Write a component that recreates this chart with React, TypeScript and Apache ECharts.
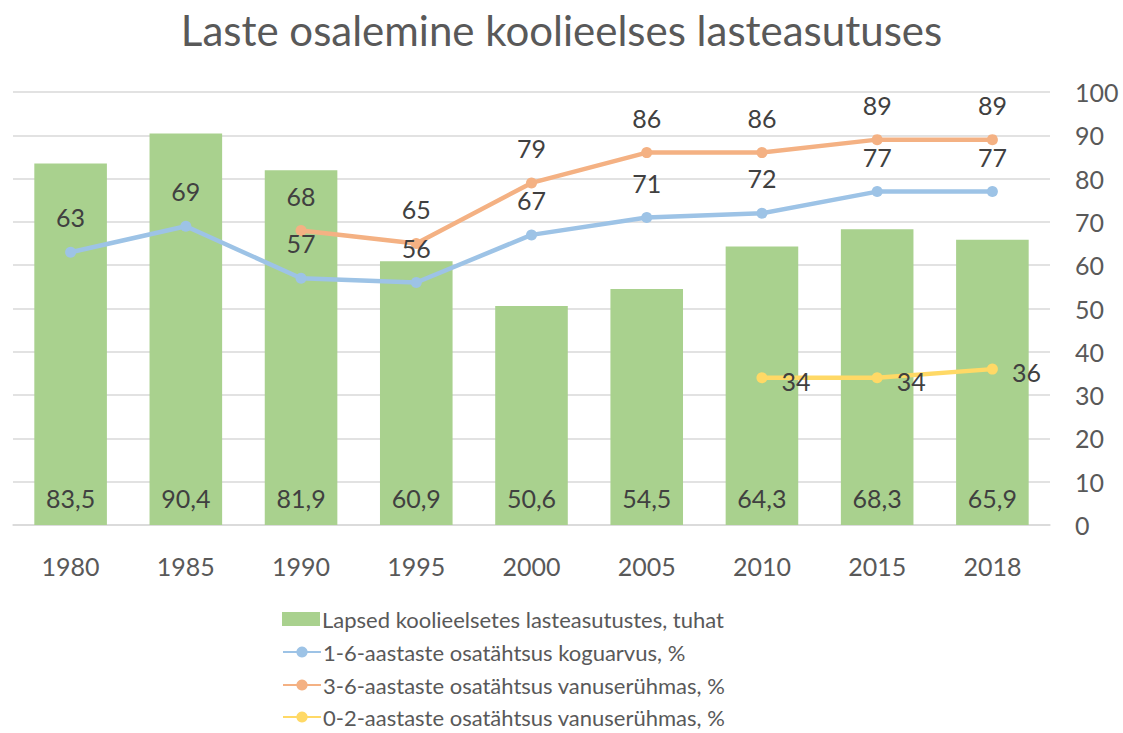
import React, { useEffect, useRef } from "react";
import * as echarts from "echarts";

const years = ["1980", "1985", "1990", "1995", "2000", "2005", "2010", "2015", "2018"];
const children = [83.5, 90.4, 81.9, 60.9, 50.6, 54.5, 64.3, 68.3, 65.9];
const share16 = [63, 69, 57, 56, 67, 71, 72, 77, 77];
const share36 = [null, null, 68, 65, 79, 86, 86, 89, 89];
const share02 = [null, null, null, null, null, null, 34, 34, 36];
const seriesNames = [
  "Lapsed koolieelsetes lasteasutustes, tuhat",
  "1-6-aastaste osatähtsus koguarvus, %",
  "3-6-aastaste osatähtsus vanuserühmas, %",
  "0-2-aastaste osatähtsus vanuserühmas, %",
];

const FONT = "Lato, 'Noto Sans', sans-serif";

export default function App() {
  const ref = useRef<HTMLDivElement>(null);
  useEffect(() => {
    if (!ref.current) return;
    const chart = echarts.init(ref.current, null, { renderer: "svg" });
    const lineLabel = {
      show: true,
      position: "top" as const,
      distance: 17,
      color: "#404040",
      fontSize: 25,
      fontFamily: FONT,
    };
    const legendTops = [602, 635, 668, 700];
    const legends = seriesNames.map((name, i) => ({
      orient: "vertical",
      left: 277,
      top: legendTops[i],
      itemWidth: 38,
      itemHeight: 14,
      textStyle: { fontSize: 22, lineHeight: 24, color: "#595959", fontFamily: FONT, padding: [0, 0, 0, -3] },
      data: [i === 0 ? { name, icon: "rect" } : { name }],
    }));
    chart.setOption({
      animation: false,
      backgroundColor: "#ffffff",
      textStyle: { fontFamily: FONT },
      title: {
        text: "Laste osalemine koolieelses lasteasutuses",
        left: "center",
        top: 4,
        textStyle: { fontSize: 42, fontWeight: "normal", color: "#595959", fontFamily: FONT },
      },
      grid: { left: 13, right: 73, top: 92, bottom: 208, containLabel: false },
      legend: legends,
      xAxis: {
        type: "category",
        data: years,
        axisLine: { show: true, lineStyle: { color: "#d9d9d9", width: 1.5 } },
        axisTick: { show: false },
        axisLabel: { color: "#595959", fontSize: 25, margin: 28, fontFamily: FONT },
      },
      yAxis: {
        type: "value",
        position: "right",
        min: 0,
        max: 100,
        interval: 10,
        axisLine: { show: false },
        axisTick: { show: false },
        axisLabel: { color: "#595959", fontSize: 25, margin: 25, fontFamily: FONT },
        splitLine: { lineStyle: { color: "#d9d9d9", width: 1.5 } },
      },
      series: [
        {
          name: seriesNames[0],
          type: "bar",
          data: children,
          barCategoryGap: "37%",
          itemStyle: { color: "#A9D18E" },
          label: {
            show: true,
            position: "insideBottom",
            distance: 15,
            color: "#404040",
            fontSize: 25,
            fontFamily: FONT,
            formatter: (p: any) => String(p.value).replace(".", ","),
          },
        },
        {
          name: seriesNames[1],
          type: "line",
          data: share16,
          symbol: "circle",
          symbolSize: 11,
          lineStyle: { width: 4.5, color: "#9DC3E6" },
          itemStyle: { color: "#9DC3E6" },
          label: lineLabel,
        },
        {
          name: seriesNames[2],
          type: "line",
          data: share36,
          symbol: "circle",
          symbolSize: 11,
          lineStyle: { width: 4.5, color: "#F4B183" },
          itemStyle: { color: "#F4B183" },
          label: lineLabel,
        },
        {
          name: seriesNames[3],
          type: "line",
          data: share02,
          symbol: "circle",
          symbolSize: 11,
          lineStyle: { width: 4.5, color: "#FFD966" },
          itemStyle: { color: "#FFD966" },
          label: { ...lineLabel, position: "right", distance: 14, offset: [0, 3] },
        },
      ],
    });
    return () => chart.dispose();
  }, []);
  return <div ref={ref} style={{ width: 1123, height: 733, position: "absolute", left: 0, top: 0 }} />;
}
